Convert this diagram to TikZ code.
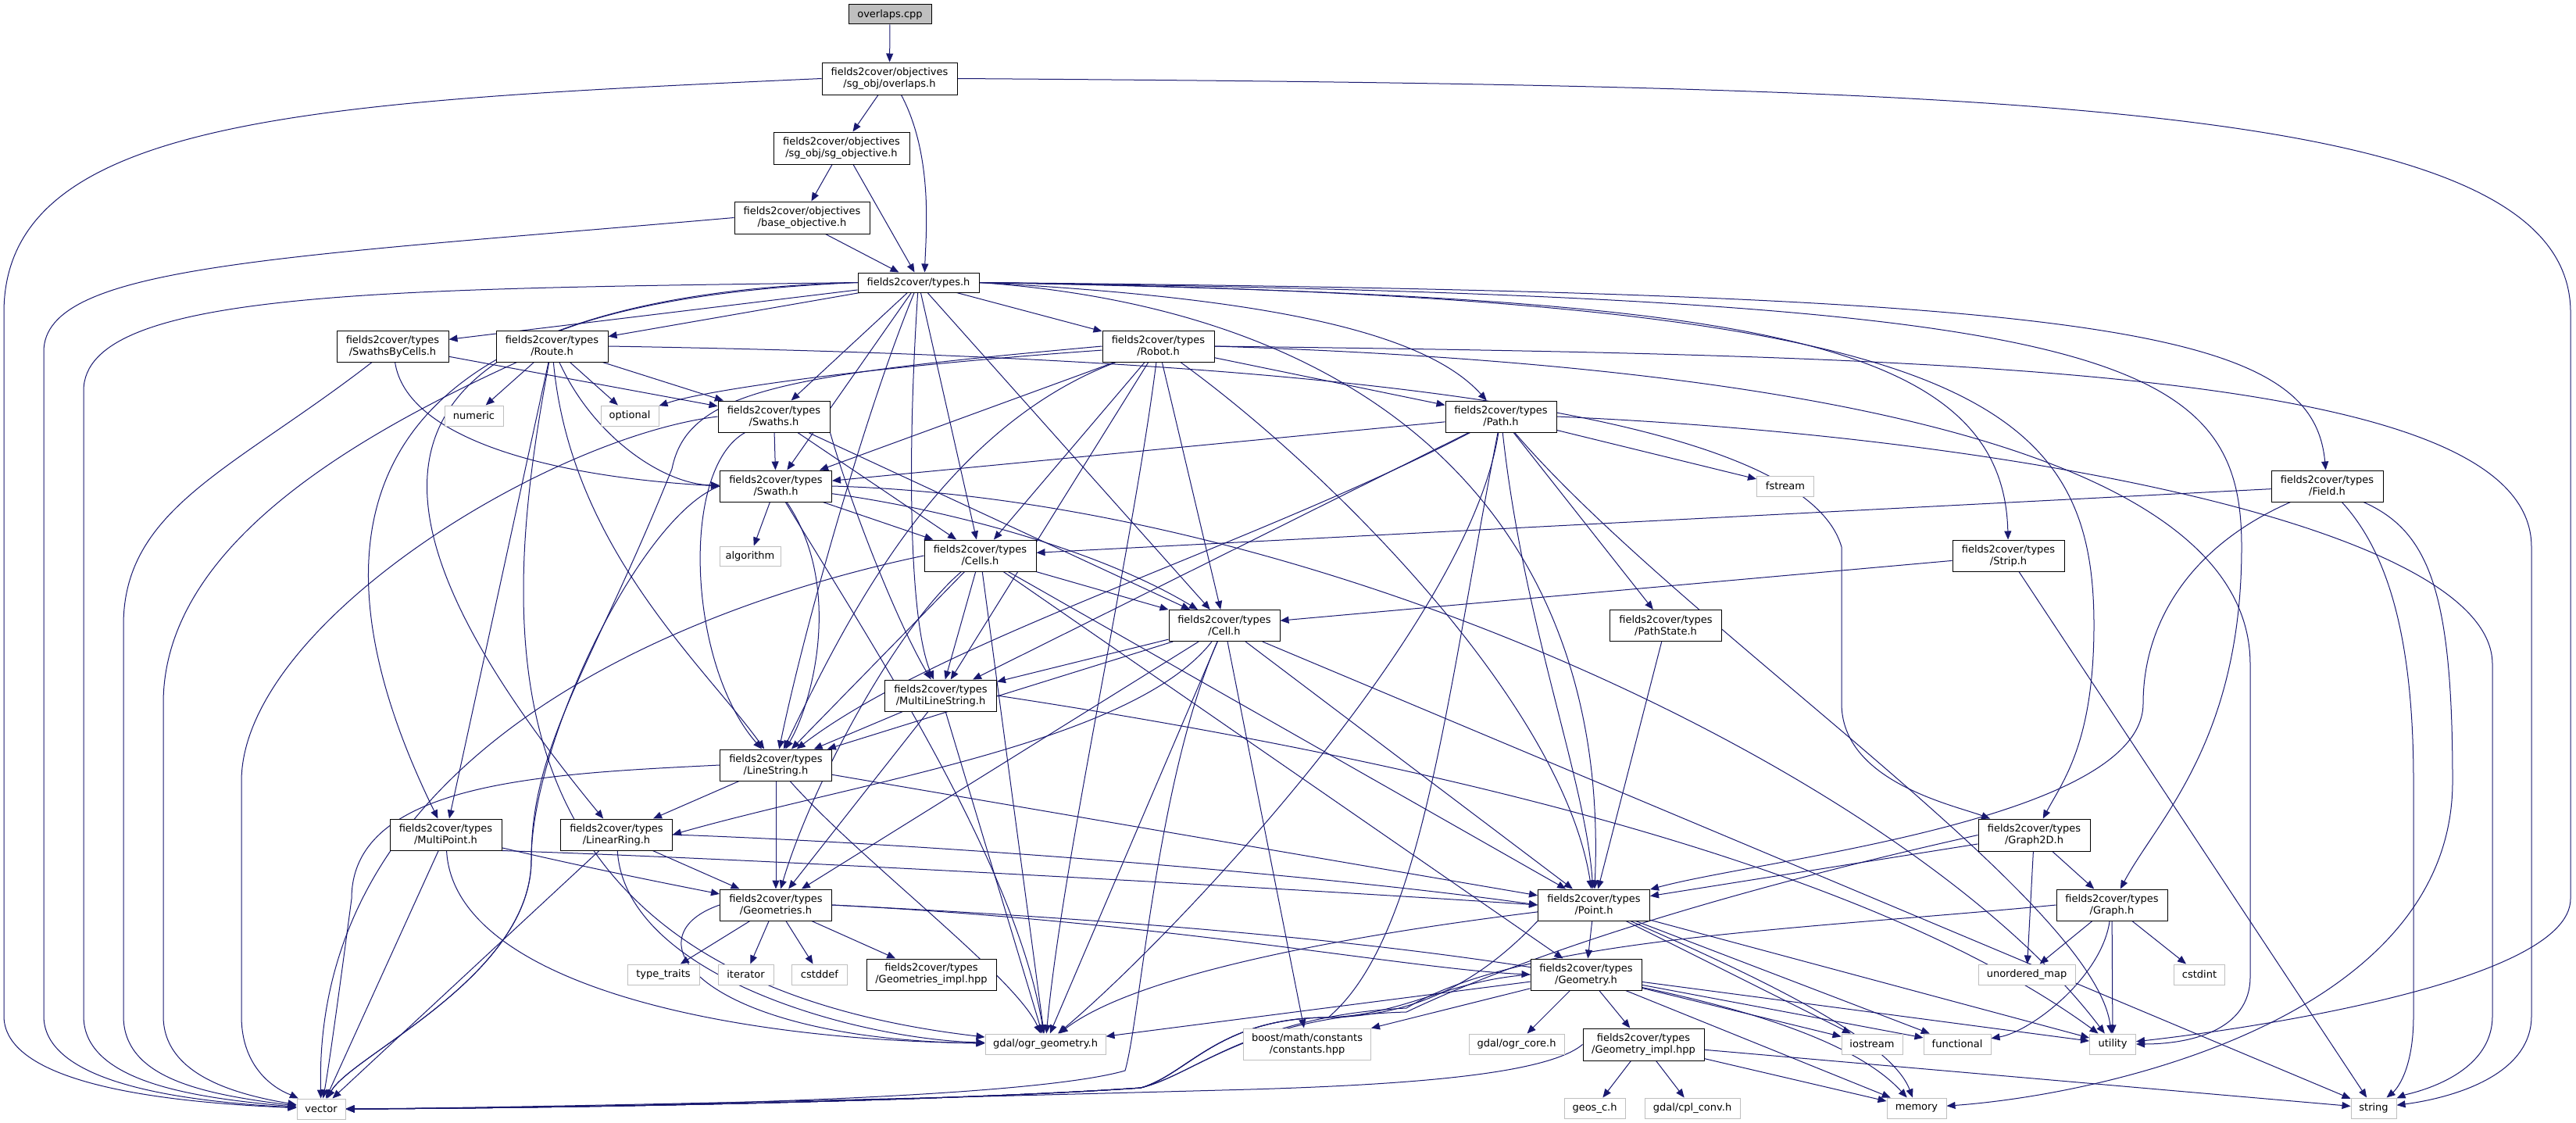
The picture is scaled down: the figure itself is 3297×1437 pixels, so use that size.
\documentclass[tikz,border=0pt]{standalone}
\usepackage{fontspec}
\setmainfont{DejaVu Sans}
\usetikzlibrary{arrows.meta}
\definecolor{ec}{HTML}{191970}
\definecolor{sysg}{HTML}{BFBFBF}
\pgfdeclarelayer{bg}
\pgfsetlayers{bg,main}
\begin{document}
\begin{tikzpicture}[x=1pt,y=-1pt,
  hdr/.style={draw=black, line width=1pt, fill=white, inner sep=0pt, align=center, font=\fontsize{13}{15}\selectfont},
  sys/.style={hdr, draw=sysg},
  sz/.style 2 args={minimum width=#1pt, minimum height=#2pt},
  e/.style={draw=ec, line width=1pt, -{Triangle[length=11pt,width=9pt]}}]
\useasboundingbox (0,0) rectangle (3297,1437);
% nodes
\node[hdr,sz={106}{25},fill=sysg] (cpp) at (1139,18.5) {overlaps.cpp};
\node[hdr,sz={173}{41}] (overlaps) at (1138.5,100.5) {fields2cover/objectives\\/sg\_obj/overlaps.h};
\node[hdr,sz={174}{41}] (sgobj) at (1077,189.5) {fields2cover/objectives\\/sg\_obj/sg\_objective.h};
\node[hdr,sz={173}{41}] (baseobj) at (1026.5,278.5) {fields2cover/objectives\\/base\_objective.h};
\node[hdr,sz={155}{25}] (types) at (1175.5,361.5) {fields2cover/types.h};
\node[hdr,sz={143}{40}] (sbc) at (502.5,443) {fields2cover/types\\/SwathsByCells.h};
\node[hdr,sz={143}{40}] (route) at (706.5,443) {fields2cover/types\\/Route.h};
\node[sys,sz={75}{26}] (numeric) at (606.5,532) {numeric};
\node[sys,sz={74}{26}] (optional) at (806,532) {optional};
\node[hdr,sz={143}{40}] (swaths) at (990.5,533) {fields2cover/types\\/Swaths.h};
\node[hdr,sz={143}{40}] (robot) at (1482.5,443) {fields2cover/types\\/Robot.h};
\node[hdr,sz={142}{40}] (path) at (1921,533) {fields2cover/types\\/Path.h};
\node[hdr,sz={143}{40}] (swath) at (993,622) {fields2cover/types\\/Swath.h};
\node[sys,sz={78}{25}] (algorithm) at (960,711.5) {algorithm};
\node[hdr,sz={143}{40}] (cells) at (1254.5,711) {fields2cover/types\\/Cells.h};
\node[hdr,sz={142}{40}] (cell) at (1567,800.5) {fields2cover/types\\/Cell.h};
\node[hdr,sz={143}{40}] (mls) at (1204,890) {fields2cover/types\\/MultiLineString.h};
\node[hdr,sz={143}{40}] (ls) at (993,979) {fields2cover/types\\/LineString.h};
\node[hdr,sz={143}{40}] (geoms) at (993,1158) {fields2cover/types\\/Geometries.h};
\node[sys,sz={71}{26}] (iterator) at (954.5,1247) {iterator};
\node[sys,sz={71}{26}] (cstddef) at (1049,1247) {cstddef};
\node[hdr,sz={166}{40}] (geomsimpl) at (1192,1247) {fields2cover/types\\/Geometries\_impl.hpp};
\node[sys,sz={154}{26}] (ogrgeom) at (1338,1336) {gdal/ogr\_geometry.h};
\node[sys,sz={163}{40}] (boost) at (1673,1336) {boost/math/constants\\/constants.hpp};
\node[sys,sz={122}{26}] (ogrcore) at (1941,1336) {gdal/ogr\_core.h};
\node[hdr,sz={142}{40}] (geometry) at (2030,1247) {fields2cover/types\\/Geometry.h};
\node[hdr,sz={143}{40}] (point) at (2040,1158) {fields2cover/types\\/Point.h};
\node[hdr,sz={155}{41}] (geomimpl) at (2103.5,1336.5) {fields2cover/types\\/Geometry\_impl.hpp};
\node[sys,sz={78}{26}] (geosc) at (2041,1418) {geos\_c.h};
\node[sys,sz={122}{26}] (cplconv) at (2166,1418) {gdal/cpl\_conv.h};
\node[sys,sz={76}{26}] (memory) at (2453,1418) {memory};
\node[sys,sz={58}{26}] (string) at (3038,1418) {string};
\node[sys,sz={78}{26}] (iostream) at (2396,1336) {iostream};
\node[sys,sz={86}{26}] (functional) at (2505,1336) {functional};
\node[sys,sz={59}{26}] (utility) at (2704,1336) {utility};
\node[sys,sz={124}{26}] (umap) at (2594,1247) {unordered\_map};
\node[sys,sz={65}{26}] (cstdint) at (2815,1247) {cstdint};
\node[hdr,sz={143}{41}] (graph2d) at (2603.5,1068.5) {fields2cover/types\\/Graph2D.h};
\node[hdr,sz={142}{40}] (graph) at (2703,1158) {fields2cover/types\\/Graph.h};
\node[sys,sz={62}{26}] (vector) at (411,1419) {vector};
\node[hdr,sz={143}{40}] (multipoint) at (570.5,1068) {fields2cover/types\\/MultiPoint.h};
\node[hdr,sz={143}{40}] (linearring) at (789,1068) {fields2cover/types\\/LinearRing.h};
\node[sys,sz={92}{26}] (typetraits) at (849,1247) {type\_traits};
\node[hdr,sz={143}{40}] (pathstate) at (2132,800.5) {fields2cover/types\\/PathState.h};
\node[sys,sz={73}{26}] (fstream) at (2285,622) {fstream};
\node[hdr,sz={143}{40}] (strip) at (2570.5,711) {fields2cover/types\\/Strip.h};
\node[hdr,sz={143}{40}] (field) at (2978.5,622) {fields2cover/types\\/Field.h};
% edges
\begin{pgfonlayer}{bg}
% top
\draw[e] (cpp) -- (overlaps);
\draw[e] (overlaps) -- (sgobj);
\draw[e] ([xshift=15pt]overlaps.south) .. controls (1195,200) and (1185,300) .. ([xshift=8pt]types.north);
\draw[e] (sgobj) -- (baseobj);
\draw[e] ([xshift=15pt]sgobj.south) -- ([xshift=-5pt]types.north);
\draw[e] ([xshift=30pt]baseobj.south) -- ([xshift=-25pt]types.north);
\draw[e] (overlaps.west) .. controls (400,130) and (5,150) .. (5,400) -- (5,1300) .. controls (5,1395) and (250,1412) .. (vector);
\draw[e] (overlaps.east) .. controls (2600,110) and (3290,130) .. (3290,400) -- (3290,1150) .. controls (3290,1260) and (2850,1320) .. (utility);
\draw[e] (baseobj.west) .. controls (350,330) and (56,340) .. (56,450) -- (56,1300) .. controls (56,1390) and (250,1410) .. (vector);
% types.h
\draw[e] (types.west) .. controls (500,370) and (107,370) .. (107,500) -- (107,1300) .. controls (107,1385) and (250,1405) .. (vector);
\draw[e] (types) -- (sbc);
\draw[e] (types) -- (route);
\draw[e] (types.west) .. controls (420,380) and (390,700) .. (multipoint);
\draw[e] (types.west) .. controls (450,390) and (420,620) .. (linearring);
\draw[e] (types) .. controls (1110,520) and (1030,800) .. (ls);
\draw[e] (types) -- (swaths);
\draw[e] (types) -- (swath);
\draw[e] (types) -- (cells);
\draw[e] (types) .. controls (1160,600) and (1165,800) .. (mls);
\draw[e] (types) -- (cell);
\draw[e] (types) -- (robot);
\draw[e] (types.east) .. controls (1600,380) and (1820,420) .. (path);
\draw[e] (types.east) .. controls (1800,400) and (2060,700) .. (point);
\draw[e] (types.east) .. controls (2200,380) and (2564,420) .. (strip);
\draw[e] (types.east) .. controls (2500,380) and (2680,500) .. (2680,800) .. controls (2680,950) and (2640,1000) .. (graph2d);
\draw[e] (types.east) .. controls (2700,380) and (2869,450) .. (2869,700) .. controls (2869,950) and (2760,1050) .. (graph);
\draw[e] (types.east) .. controls (2700,375) and (2960,420) .. (field);
% SwathsByCells
\draw[e] (sbc) -- (swaths);
\draw[e] (sbc) .. controls (520,560) and (700,610) .. (swath.west);
\draw[e] (sbc) .. controls (300,600) and (158,650) .. (158,800) -- (158,1300) .. controls (158,1380) and (260,1400) .. (vector);
% Route
\draw[e] (route) -- (numeric);
\draw[e] (route) -- (optional);
\draw[e] (route) -- (swaths);
\draw[e] (route) .. controls (760,560) and (850,620) .. (swath);
\draw[e] (route) -- (multipoint);
\draw[e] (route) .. controls (730,700) and (900,850) .. (ls);
\draw[e] (route) .. controls (450,560) and (209,700) .. (209,900) -- (209,1300) .. controls (209,1375) and (300,1400) .. (vector);
\draw[e] (route) .. controls (640,800) and (600,1250) .. (ogrgeom);
\draw[e] (route.east) .. controls (1500,455) and (2300,500) .. (2357,700) -- (2357,900) .. controls (2357,1000) and (2500,1030) .. (graph2d);
% Robot
\draw[e] (robot) .. controls (1100,470) and (900,500) .. (optional);
\draw[e] (robot.east) .. controls (2500,455) and (3240,470) .. (3240,700) -- (3240,1300) .. controls (3240,1390) and (3100,1410) .. (string);
\draw[e] (robot.west) .. controls (1000,480) and (880,500) .. (860,600) .. controls (760,850) and (680,950) .. (680,1100) .. controls (680,1250) and (450,1350) .. (vector);
\draw[e] (robot) -- (cells);
\draw[e] (robot) -- (cell);
\draw[e] (robot) -- (mls);
\draw[e] (robot) .. controls (1200,550) and (1080,800) .. (ls);
\draw[e] (robot) -- (path);
\draw[e] (robot) .. controls (1700,600) and (2000,900) .. (point);
\draw[e] (robot) .. controls (1450,700) and (1360,1100) .. (ogrgeom);
\draw[e] (robot) -- (swath);
\draw[e] (robot.east) .. controls (2400,470) and (2880,600) .. (2880,850) -- (2880,1250) .. controls (2880,1320) and (2800,1336) .. (utility);
% Swaths
\draw[e] (swaths) -- (swath);
\draw[e] (swaths) -- (cells);
\draw[e] (swaths) -- (cell);
\draw[e] (swaths) .. controls (870,600) and (880,850) .. (ls);
\draw[e] (swaths.south east) .. controls (1090,650) and (1150,800) .. (mls);
\draw[e] (swaths.west) .. controls (700,560) and (309,800) .. (309,1000) -- (309,1300) .. controls (309,1380) and (370,1400) .. (vector);
% Swath
\draw[e] (swath) -- (algorithm);
\draw[e] (swath) -- (cells);
\draw[e] (swath) .. controls (1200,650) and (1400,700) .. (cell);
\draw[e] (swath) .. controls (1080,750) and (1040,900) .. (ls);
\draw[e] (swath) .. controls (1100,800) and (1300,1100) .. (ogrgeom);
\draw[e] (swath.east) .. controls (1700,640) and (2450,1000) .. (utility);
\draw[e] (swath.west) .. controls (820,660) and (680,950) .. (680,1100) .. controls (680,1250) and (450,1350) .. (vector);
% Path
\draw[e] (path) -- (fstream);
\draw[e] (path) -- (pathstate);
\draw[e] (path) .. controls (1950,800) and (2030,1000) .. (point);
\draw[e] (path.east) .. controls (2600,560) and (3190,680) .. (3190,850) -- (3190,1300) .. controls (3190,1380) and (3080,1400) .. (string);
\draw[e] (path) -- (swath);
\draw[e] (path) -- (mls);
\draw[e] (path) .. controls (1600,700) and (1200,820) .. (ls);
\draw[e] (path) .. controls (1850,900) and (1820,1200) .. (1700,1302) .. controls (1560,1302) and (1520,1375) .. (1460,1392) .. controls (1200,1410) and (700,1418) .. (vector.east);
\draw[e] (path) .. controls (1880,800) and (1500,1200) .. (ogrgeom);
\draw[e] (path) .. controls (2150,800) and (2680,1150) .. (utility);
% Cells
\draw[e] (cells) -- (cell);
\draw[e] (cells) -- (ls);
\draw[e] (cells) -- (mls);
\draw[e] (cells) .. controls (1150,800) and (1040,1000) .. (geoms);
\draw[e] (cells) -- (geometry);
\draw[e] (cells) -- (point);
\draw[e] (cells) -- (ogrgeom);
\draw[e] (cells.west) .. controls (900,770) and (400,950) .. (vector);
% Cell
\draw[e] (cell) -- (mls);
\draw[e] (cell) -- (ls);
\draw[e] (cell) .. controls (1450,950) and (1100,1000) .. (linearring.east);
\draw[e] (cell) -- (geoms);
\draw[e] (cell) -- (point);
\draw[e] (cell) -- (ogrgeom);
\draw[e] (cell) -- (boost);
\draw[e] (cell) -- (string);
\draw[e] (cell) .. controls (1480,1000) and (1460,1300) .. (1440,1370) .. controls (1300,1410) and (700,1418) .. (vector.east);
% Strip, Field, PathState
\draw[e] (strip) -- (cell);
\draw[e] (strip) -- (string);
\draw[e] (field) -- (cells);
\draw[e] (field) .. controls (2800,700) and (2743,800) .. (2743,900) .. controls (2743,1050) and (2250,1100) .. (point);
\draw[e] (field) .. controls (3110,680) and (3139,760) .. (3139,1000) .. controls (3139,1300) and (2700,1400) .. (memory);
\draw[e] (field) .. controls (3050,700) and (3089,800) .. (3089,1000) -- (3089,1300) .. controls (3089,1380) and (3060,1400) .. (string);
\draw[e] (pathstate) -- (point);
% MultiLineString
\draw[e] (mls) -- (ls);
\draw[e] (mls) -- (geoms);
\draw[e] (mls) -- (ogrgeom);
\draw[e] (mls.east) .. controls (2000,1000) and (2450,1150) .. (utility);
% LineString
\draw[e] (ls) -- (linearring);
\draw[e] (ls) -- (geoms);
\draw[e] (ls) -- (point);
\draw[e] (ls) .. controls (1100,1100) and (1300,1250) .. (ogrgeom);
\draw[e] (ls.west) .. controls (700,990) and (450,1000) .. (450,1150) .. controls (430,1300) and (420,1370) .. (vector);
% LinearRing
\draw[e] (linearring) -- (geoms);
\draw[e] (linearring.east) .. controls (1200,1080) and (1700,1120) .. (point.west);
\draw[e] (linearring) .. controls (800,1250) and (1100,1330) .. (ogrgeom);
\draw[e] (linearring) -- (vector);
% MultiPoint
\draw[e] (multipoint) .. controls (750,1110) and (850,1130) .. (geoms);
\draw[e] (multipoint.south east) .. controls (1000,1100) and (1700,1140) .. (point.west);
\draw[e] (multipoint) .. controls (580,1250) and (900,1330) .. (ogrgeom);
\draw[e] (multipoint) -- (vector);
% Geometries
\draw[e] (geoms) -- (typetraits);
\draw[e] (geoms) -- (iterator);
\draw[e] (geoms) -- (cstddef);
\draw[e] (geoms) -- (geomsimpl);
\draw[e] (geoms.west) .. controls (800,1200) and (900,1330) .. (ogrgeom);
\draw[e] (geoms.east) .. controls (1500,1180) and (1800,1240) .. (geometry.west);
\draw[e] (geoms.east) .. controls (1700,1190) and (2300,1250) .. (memory);
% Point
\draw[e] (point) -- (geometry);
\draw[e] (point) .. controls (1700,1200) and (1450,1250) .. (ogrgeom);
\draw[e] (point.south west) .. controls (1900,1250) and (1820,1300) .. (1700,1302) .. controls (1560,1302) and (1520,1375) .. (1460,1392) .. controls (1200,1410) and (700,1418) .. (vector.east);
\draw[e] (point) -- (iostream);
\draw[e] (point) -- (functional);
\draw[e] (point) -- (utility);
\draw[e] (point) .. controls (2250,1250) and (2420,1330) .. (memory);
% Geometry
\draw[e] (geometry) -- (ogrgeom);
\draw[e] (geometry) -- (ogrcore);
\draw[e] (geometry) -- (boost);
\draw[e] (geometry) -- (geomimpl);
\draw[e] (geometry) -- (iostream);
\draw[e] (geometry) -- (functional);
\draw[e] (geometry) -- (utility);
\draw[e] (geometry) -- (memory);
\draw[e] (geometry.west) .. controls (1850,1255) and (1800,1298) .. (1700,1302) .. controls (1560,1302) and (1520,1375) .. (1460,1392) .. controls (1200,1410) and (700,1418) .. (vector.east);
% Geometry_impl
\draw[e] (geomimpl) -- (geosc);
\draw[e] (geomimpl) -- (cplconv);
\draw[e] (geomimpl) -- (memory);
\draw[e] (geomimpl) -- (string);
\draw[e] (geomimpl.west) .. controls (1980,1375) and (1800,1388) .. (1600,1394) .. controls (1200,1405) and (700,1417) .. (vector.east);
% Graph2D, Graph
\draw[e] (graph2d) -- (graph);
\draw[e] (graph2d) -- (umap);
\draw[e] (graph2d) -- (point);
\draw[e] (graph2d.west) .. controls (2300,1120) and (2000,1200) .. (1800,1295) .. controls (1600,1300) and (1530,1375) .. (1460,1392) .. controls (1200,1410) and (700,1418) .. (vector.east);
\draw[e] (graph) -- (umap);
\draw[e] (graph) -- (cstdint);
\draw[e] (graph) -- (utility);
\draw[e] (graph) .. controls (2690,1250) and (2600,1320) .. (functional);
\draw[e] (graph.west) .. controls (2300,1190) and (1950,1200) .. (1800,1290) .. controls (1600,1300) and (1530,1375) .. (1460,1392) .. controls (1200,1410) and (700,1418) .. (vector.east);
\end{pgfonlayer}
\end{tikzpicture}
\end{document}
